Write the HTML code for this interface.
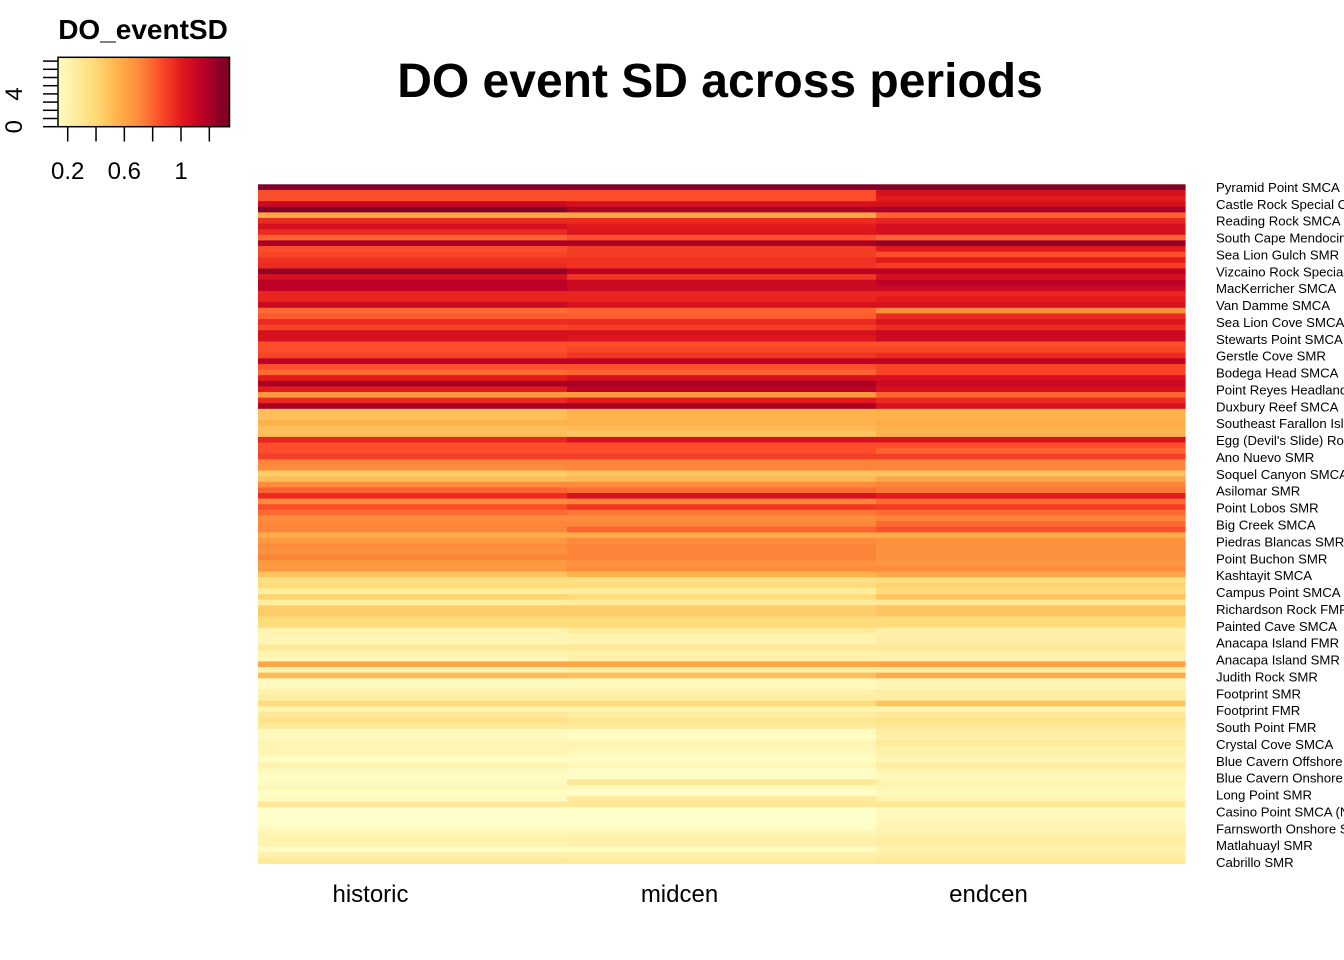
<!DOCTYPE html>
<html><head><meta charset="utf-8"><style>
html,body{margin:0;padding:0;background:#fff;}
svg{display:block;font-family:"Liberation Sans",Arial,sans-serif;}
</style></head><body>
<svg id="chart" width="1344" height="960" viewBox="0 0 1344 960" xmlns="http://www.w3.org/2000/svg">
<text x="720" y="97" font-size="48" font-weight="bold" text-anchor="middle">DO event SD across periods</text>
<text x="143" y="39" font-size="28" font-weight="bold" text-anchor="middle">DO_eventSD</text>
<g id="legend"></g>
<g id="cells"></g>
<g id="xlabels"></g>
<g id="ylabels"></g>
</svg>
<script>
const periods = ["historic","midcen","endcen"];
const historic = [1.3,0.85,0.85,1.1,1.3,0.6,0.95,1.05,0.95,0.8,1.2,0.85,0.88,0.93,0.95,1.25,1.05,1.15,1.15,0.97,0.97,1.1,0.78,0.82,0.95,0.88,1.05,1.05,0.85,0.85,0.88,1.15,0.85,0.78,1.0,1.2,1.0,0.65,0.95,1.2,0.5,0.5,0.55,0.5,0.5,0.97,0.85,0.85,0.9,0.72,0.7,0.45,0.5,0.7,0.8,0.95,0.7,0.85,0.78,0.7,0.72,0.72,0.58,0.65,0.7,0.68,0.72,0.65,0.65,0.48,0.35,0.38,0.25,0.42,0.25,0.45,0.45,0.38,0.38,0.2,0.18,0.18,0.28,0.2,0.17,0.6,0.2,0.52,0.15,0.15,0.22,0.25,0.38,0.2,0.28,0.33,0.27,0.15,0.15,0.18,0.18,0.18,0.12,0.2,0.15,0.12,0.14,0.17,0.12,0.14,0.28,0.1,0.1,0.1,0.13,0.18,0.2,0.2,0.13,0.22,0.27];
const midcen = [1.3,0.85,0.85,1.05,1.2,0.6,0.95,1.0,1.03,0.85,1.2,0.9,0.9,0.93,0.93,1.15,0.92,1.1,1.1,0.97,0.97,1.05,0.8,0.82,0.95,0.9,1.05,1.03,0.85,0.88,0.92,1.15,0.85,0.8,1.05,1.2,1.15,0.65,1.0,1.2,0.55,0.55,0.55,0.52,0.48,1.05,0.85,0.85,0.9,0.72,0.72,0.48,0.52,0.7,0.78,1.05,0.72,0.92,0.75,0.7,0.72,0.8,0.58,0.7,0.72,0.72,0.72,0.68,0.7,0.55,0.35,0.38,0.25,0.38,0.27,0.45,0.45,0.38,0.38,0.27,0.2,0.2,0.28,0.22,0.22,0.6,0.25,0.5,0.15,0.15,0.22,0.25,0.38,0.2,0.25,0.3,0.27,0.13,0.13,0.18,0.18,0.15,0.13,0.17,0.12,0.12,0.28,0.15,0.11,0.28,0.28,0.1,0.1,0.1,0.12,0.17,0.22,0.22,0.13,0.22,0.26];
const endcen = [1.3,1.05,1.0,1.05,1.2,0.8,0.97,1.05,1.05,0.8,1.25,1.0,0.85,1.0,0.9,1.15,1.05,1.15,1.1,0.97,1.0,1.05,0.7,0.95,1.03,0.95,1.1,1.1,0.85,0.88,0.95,1.15,0.88,0.88,1.05,1.1,1.05,0.8,0.95,1.05,0.55,0.55,0.58,0.55,0.55,1.05,0.85,0.8,0.9,0.72,0.72,0.48,0.6,0.72,0.75,1.0,0.78,0.9,0.78,0.72,0.78,0.85,0.58,0.68,0.68,0.68,0.68,0.65,0.7,0.6,0.38,0.42,0.38,0.48,0.28,0.48,0.48,0.38,0.38,0.22,0.23,0.23,0.28,0.22,0.22,0.62,0.25,0.58,0.18,0.18,0.23,0.25,0.48,0.2,0.28,0.33,0.28,0.25,0.22,0.27,0.22,0.22,0.18,0.25,0.2,0.15,0.2,0.18,0.15,0.2,0.28,0.15,0.15,0.18,0.18,0.2,0.24,0.24,0.2,0.24,0.27];
const rowLabels = ["Pyramid Point SMCA","Castle Rock Special Closure","Reading Rock SMCA","South Cape Mendocino SMR","Sea Lion Gulch SMR","Vizcaino Rock Special Closure","MacKerricher SMCA","Van Damme SMCA","Sea Lion Cove SMCA","Stewarts Point SMCA","Gerstle Cove SMR","Bodega Head SMCA","Point Reyes Headlands SC","Duxbury Reef SMCA","Southeast Farallon Island SMR","Egg (Devil's Slide) Rock SC","Ano Nuevo SMR","Soquel Canyon SMCA","Asilomar SMR","Point Lobos SMR","Big Creek SMCA","Piedras Blancas SMR","Point Buchon SMR","Kashtayit SMCA","Campus Point SMCA","Richardson Rock FMR","Painted Cave SMCA","Anacapa Island FMR","Anacapa Island SMR","Judith Rock SMR","Footprint SMR","Footprint FMR","South Point FMR","Crystal Cove SMCA","Blue Cavern Offshore SMCA","Blue Cavern Onshore SMCA","Long Point SMR","Casino Point SMCA (No-Take)","Farnsworth Onshore SMCA","Matlahuayl SMR","Cabrillo SMR"];
const keyTicks = [0.2,0.4,0.6,0.8,1.0,1.2];
const keyTickLabels = ["0.2","0.6","1"];
const keyTickLabelValues = [0.2,0.6,1.0];

const NS="http://www.w3.org/2000/svg";
const pal=["#FFFFCC","#FFEDA0","#FED976","#FEB24C","#FD8D3C","#FC4E2A","#E31A1C","#BD0026","#800026"];
const vmin=0.1, vmax=1.3;
function hx(c){return [1,3,5].map(i=>parseInt(c.substr(i,2),16));}
function color(v){let t=(v-vmin)/(vmax-vmin);t=Math.max(0,Math.min(1,t))*8;const i=Math.min(7,Math.floor(t)),f=t-i;const a=hx(pal[i]),b=hx(pal[i+1]);return "rgb("+a.map((x,k)=>Math.round(x+(b[k]-x)*f)).join(",")+")";}
function mk(tag,attrs,parent){const e=document.createElementNS(NS,tag);for(const k in attrs)e.setAttribute(k,attrs[k]);parent.appendChild(e);return e;}

const L=258,R=1185,T=184.3,B=863.5;
const series=[historic,midcen,endcen];
const nRows=historic.length;
const colW=(R-L)/periods.length, rowH=(B-T)/nRows;
const xCol=i=>L+i*colW, yRow=r=>T+r*rowH;
const cells=document.getElementById('cells');
series.forEach((s,c)=>{s.forEach((v,r)=>{
  const e=mk('rect',{x:xCol(c),y:yRow(r),width:colW+0.6,height:rowH+0.6,fill:color(v)},cells);
  
  
});});
const xl=document.getElementById('xlabels');
periods.forEach((p,i)=>{
  const t=mk('text',{x:xCol(i)+colW/2-42,y:902,'font-size':24,'text-anchor':'middle'},xl);t.textContent=p;
  
  
});
const yl=document.getElementById('ylabels');
rowLabels.forEach((lab,i)=>{
  const t=mk('text',{x:1216,y:yRow(i*3)+rowH/2+4.8+i*0.04,'font-size':13.2},yl);t.textContent=lab;
  
  
});
const lg=document.getElementById('legend');
const kL=58,kR=229.5,kT=57.3,kB=126.7;
const kx=v=>67.7+(v-0.2)*(181-67.7)/0.8;
const defs=mk('defs',{},lg);
const grad=mk('linearGradient',{id:'kg',x1:0,x2:1,y1:0,y2:0},defs);
for(let i=0;i<=40;i++){const v=vmin+(vmax-vmin)*i/40;const px=kx(v);const off=(px-kL)/(kR-kL);if(off<0||off>1)continue;mk('stop',{offset:off,'stop-color':color(v)},grad);}
const kb=mk('rect',{x:kL,y:kT,width:kR-kL,height:kB-kT,fill:'url(#kg)',stroke:'#000','stroke-width':1.5},lg);


keyTicks.forEach(v=>{mk('line',{x1:kx(v),x2:kx(v),y1:kB,y2:141.5,stroke:'#000','stroke-width':1.5},lg);});
keyTickLabels.forEach((s,i)=>{const t=mk('text',{x:kx(keyTickLabelValues[i]),y:179,'font-size':24,'text-anchor':'middle'},lg);t.textContent=s;
  
  });
for(let i=0;i<=8;i++){const y=kB-i*8.2;mk('line',{x1:43,x2:kL,y1:y,y2:y,stroke:'#000','stroke-width':1.5},lg);}
[[0,"0"],[4,"4"]].forEach(([n,s])=>{const y=kB-n*8.2;const t=mk('text',{x:0,y:0,'font-size':24,'text-anchor':'middle',transform:`translate(22,${y}) rotate(-90)`},lg);t.textContent=s;
  
  });
</script>
</body></html>
